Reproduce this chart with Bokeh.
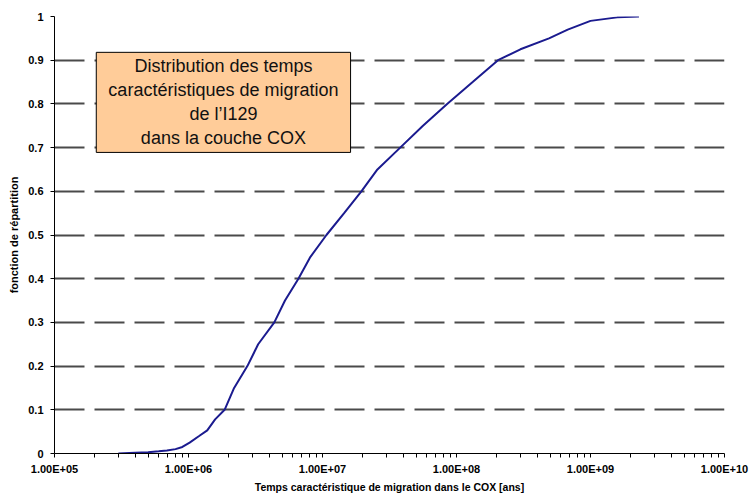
import numpy as np
from bokeh.plotting import figure
from bokeh.models import (Range1d, FixedTicker, CustomJSTickFormatter, BoxAnnotation, Label)
from bokeh.embed import file_html
from bokeh.resources import INLINE

# ---- data ----
temps = [3.0e5, 4.0e5, 5.0e5, 6.0e5, 6.9e5, 8.0e5, 9.0e5, 1.02e6, 1.2e6, 1.38e6,
         1.58e6, 1.86e6, 2.19e6, 2.75e6, 3.31e6, 4.37e6, 5.25e6, 6.61e6, 8.13e6,
         1.07e7, 1.45e7, 1.95e7, 2.57e7, 3.8e7, 5.62e7, 8.51e7, 1.32e8, 2.04e8,
         3.0e8, 4.9e8, 6.76e8, 1.0e9, 1.58e9, 2.3e9]
frep = [0.0, 0.002, 0.003, 0.005, 0.007, 0.010, 0.015, 0.025, 0.040, 0.053,
        0.078, 0.100, 0.150, 0.200, 0.250, 0.300, 0.350, 0.400, 0.450,
        0.500, 0.550, 0.600, 0.650, 0.700, 0.750, 0.800, 0.850, 0.900,
        0.925, 0.950, 0.970, 0.990, 0.998, 1.0]

x_major = [1e5, 1e6, 1e7, 1e8, 1e9, 1e10]
y_major = [0, 0.1, 0.2, 0.3, 0.4, 0.5, 0.6, 0.7, 0.8, 0.9, 1.0]
title_lines = ["Distribution des temps", "caractéristiques de migration",
               "de l\u2019I129", "dans la couche COX"]

FONT = "Liberation Sans"

p = figure(width=755, height=496, x_axis_type="log",
           x_range=Range1d(1e5, 1e10), y_range=Range1d(0, 1),
           output_backend="svg", toolbar_location=None,
           min_border_left=54, min_border_right=31,
           min_border_top=16, min_border_bottom=43)
p.outline_line_color = None
p.background_fill_color = "white"

minor = [k * 10 ** d for d in range(5, 10) for k in range(2, 10)]
p.xaxis.ticker = FixedTicker(ticks=x_major, minor_ticks=minor)
p.yaxis.ticker = FixedTicker(ticks=y_major)

p.xaxis.formatter = CustomJSTickFormatter(code="""
var s = tick.toExponential(2).toUpperCase();
return s.replace(/E([+-])(\\d)$/, 'E$10$2');
""")
p.yaxis.formatter = CustomJSTickFormatter(code="return String(Math.round(tick*10)/10);")

for ax in (p.xaxis[0], p.yaxis[0]):
    ax.axis_line_color = "black"
    ax.axis_line_width = 1
    ax.major_tick_line_color = "black"
    ax.major_tick_out = 4
    ax.major_tick_in = 0
    ax.major_label_text_font = FONT
    ax.major_label_text_font_style = "bold"
    ax.major_label_text_font_size = "11px"
    ax.major_label_text_color = "black"
    ax.axis_label_text_font = FONT
    ax.axis_label_text_font_style = "bold"
    ax.axis_label_text_color = "black"

p.xaxis.minor_tick_line_color = "black"
p.xaxis.minor_tick_out = 4
p.xaxis.minor_tick_in = 0
p.yaxis.minor_tick_line_color = None
p.xaxis.major_label_standoff = 5
p.yaxis.major_label_standoff = 7

p.xaxis.axis_label = "Temps caractéristique de migration dans le COX [ans]"
p.xaxis.axis_label_text_font_size = "10.5px"
p.xaxis.axis_label_standoff = 3
p.yaxis.axis_label = "fonction de répartition"
p.yaxis.axis_label_text_font_size = "11px"
p.yaxis.axis_label_standoff = 5

p.xgrid.grid_line_color = None
p.ygrid.grid_line_color = "#4a4a4a"
p.ygrid.grid_line_width = 2
p.ygrid.grid_line_dash = "30 10"

p.line(temps, frep, line_color="#1b1b8f", line_width=2)

box = BoxAnnotation(left=2.05e5, right=1.62e7, bottom=0.689, top=0.918,
                    fill_color="#FFCC99", fill_alpha=1.0,
                    line_color="black", line_width=1, line_alpha=1.0)
p.add_layout(box)

lbl = Label(x=float(np.sqrt(2.05e5 * 1.62e7)), y=0.8035, text="\n".join(title_lines),
            text_align="center", text_baseline="middle",
            text_font=FONT, text_font_size="18px", text_color="#111111",
            text_line_height=1.2)
p.add_layout(lbl)

open("out.html", "w").write(file_html(p, INLINE))
